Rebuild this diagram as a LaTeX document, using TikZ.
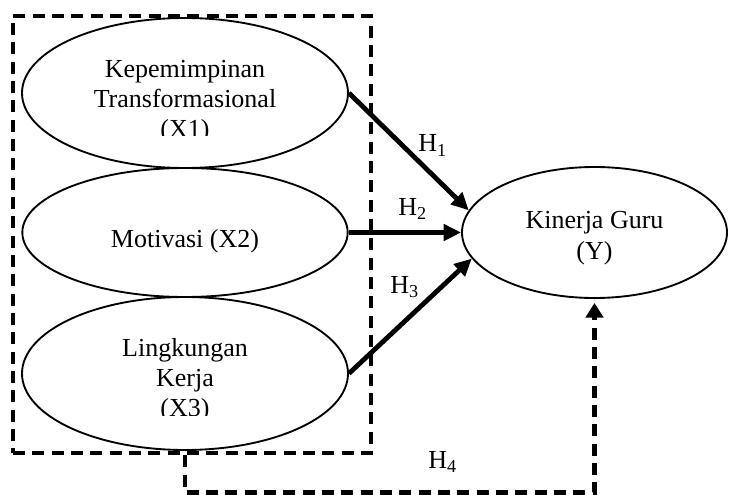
\documentclass[tikz,border=0pt]{standalone}
\usepackage{fontspec}
\setmainfont{Liberation Serif}
\usetikzlibrary{arrows.meta,shapes.geometric}

\tikzset{
    var/.style={draw, ellipse, line width=1.4pt, inner sep=0pt},
    lbl/.style={align=center, inner sep=0pt, font=\fontsize{19.5}{22.5}\selectfont},
    hyp/.style={line width=3.6pt, -{Triangle[length=13pt,width=12pt]}},
    grp/.style={line width=3.6pt, dash pattern=on 9pt off 5.5pt},
}

\begin{document}
\begin{tikzpicture}[x=0.75pt, y=-0.75pt]
    % Fix the canvas
    \useasboundingbox (0,0) rectangle (734,495);

    % Dashed box round the independent variables
    \node[grp, draw, minimum width=268.5pt, minimum height=327.75pt] (box) at (192,234.5) {};

    % Independent variables
    \node[var, minimum width=244.5pt, minimum height=112.5pt] (x1) at (185,93) {};
    \node[var, minimum width=244pt, minimum height=96.75pt] (x2) at (185,232.5) {};
    \node[var, minimum width=244.5pt, minimum height=114.75pt] (x3) at (185,373.5) {};

    % Text of the variables (X1 and X3 cut off at the bottom)
    \begin{scope}
        \clip (22,18) rectangle (348,136);
        \node[lbl] (t1) at (185,102) {Kepemimpinan\\Transformasional\\(X1)};
    \end{scope}
    \node[lbl, anchor=base] (t2) at (185,247) {Motivasi (X2)};
    \begin{scope}
        \clip (22,297) rectangle (348,415);
        \node[lbl] (t3) at (185,380) {Lingkungan\\Kerja\\(X3)};
    \end{scope}

    % Dependent variable
    \node[var, minimum width=198.75pt, minimum height=98.25pt] (y) at (594.5,232.5) {};
    \node[lbl, font=\fontsize{19.5}{23.5}\selectfont] (ty) at (594.5,238) {Kinerja Guru\\(Y)};

    % Hypotheses
    \draw[hyp] (x1.east) -- (y.170);
    \draw[hyp] (x2.east) -- (y.west);
    \draw[hyp] (x3.east) -- (y.192);
    \draw[grp, -{Triangle[length=11pt,width=13pt]}, shorten >=3pt] (x3.south |- box.south) -- ++(0,37) -| (y.south);

    % Labels
    \node[lbl, anchor=base west] (h1) at (418,152) {H\textsubscript{1}};
    \node[lbl, anchor=base west] (h2) at (398,215) {H\textsubscript{2}};
    \node[lbl, anchor=base west] (h3) at (390,293) {H\textsubscript{3}};
    \node[lbl, anchor=base west] (h4) at (428,468) {H\textsubscript{4}};
\end{tikzpicture}
\end{document}
